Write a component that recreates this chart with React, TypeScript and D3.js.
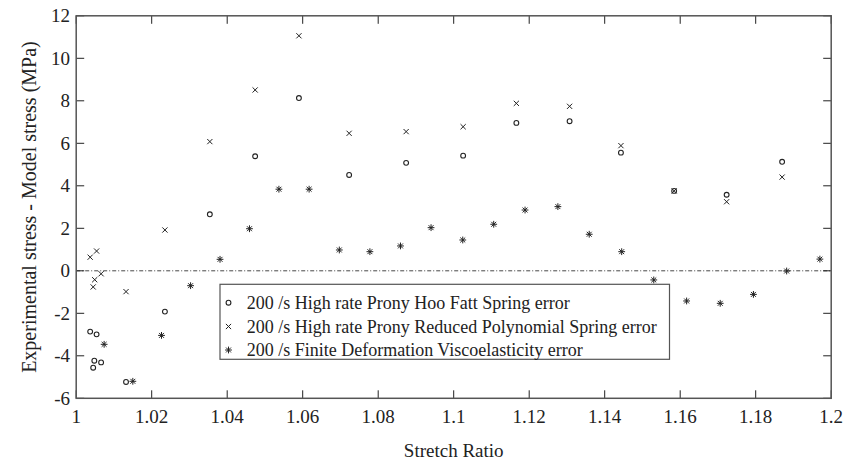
import React from "react";
import * as d3 from "d3";

const W = 856;
const H = 461;

const hooFattX = [1.0037, 1.0045, 1.0048, 1.0054, 1.0066, 1.0132, 1.0235, 1.0354, 1.0474, 1.059, 1.0723, 1.0874, 1.1025, 1.1166, 1.1307, 1.1443, 1.1584, 1.1723, 1.187];
const hooFattY = [-2.86, -4.56, -4.23, -2.99, -4.31, -5.23, -1.92, 2.66, 5.39, 8.13, 4.51, 5.08, 5.42, 6.96, 7.04, 5.56, 3.76, 3.58, 5.13];

const polyX = [1.0037, 1.0045, 1.0049, 1.0054, 1.0066, 1.0132, 1.0235, 1.0354, 1.0474, 1.059, 1.0723, 1.0874, 1.1025, 1.1166, 1.1307, 1.1443, 1.1584, 1.1723, 1.187];
const polyY = [0.64, -0.76, -0.42, 0.93, -0.14, -0.98, 1.92, 6.08, 8.51, 11.06, 6.47, 6.55, 6.78, 7.88, 7.74, 5.89, 3.76, 3.25, 4.41];

const fdvX = [1.0074, 1.015, 1.0226, 1.0303, 1.0381, 1.0459, 1.0537, 1.0617, 1.0697, 1.0778, 1.0859, 1.094, 1.1024, 1.1106, 1.1189, 1.1276, 1.1359, 1.1445, 1.153, 1.1617, 1.1706, 1.1794, 1.1882, 1.197];
const fdvY = [-3.46, -5.2, -3.04, -0.7, 0.54, 1.98, 3.84, 3.84, 0.98, 0.9, 1.17, 2.03, 1.45, 2.19, 2.86, 3.02, 1.72, 0.9, -0.43, -1.42, -1.53, -1.11, -0.01, 0.55];

const xTicks = [1, 1.02, 1.04, 1.06, 1.08, 1.1, 1.12, 1.14, 1.16, 1.18, 1.2];
const yTicks = [-6, -4, -2, 0, 2, 4, 6, 8, 10, 12];

const legendLabels = [
  "200 /s High rate Prony Hoo Fatt Spring error",
  "200 /s High rate Prony Reduced Polynomial Spring error",
  "200 /s Finite Deformation Viscoelasticity error",
];

const xTitle = "Stretch Ratio";
const yTitle = "Experimental stress - Model stress (MPa)";

const INK = "#222";
const AXIS = "#555";

const left = 76.2, right = 831.2, top = 15.8, bottom = 398.3;

function Circle({ x, y }: { x: number; y: number }) {
  return <circle cx={x} cy={y} r={2.4} fill="none" stroke={INK} strokeWidth={1.1} />;
}
function Cross({ x, y }: { x: number; y: number }) {
  const s = 2.6;
  return (
    <g stroke={INK} strokeWidth={1}>
      <line x1={x - s} y1={y - s} x2={x + s} y2={y + s} />
      <line x1={x - s} y1={y + s} x2={x + s} y2={y - s} />
    </g>
  );
}
function Star({ x, y }: { x: number; y: number }) {
  const s = 3.4;
  const d = s * 0.72;
  return (
    <g stroke={INK} strokeWidth={1}>
      <line x1={x - s} y1={y} x2={x + s} y2={y} />
      <line x1={x} y1={y - s} x2={x} y2={y + s} />
      <line x1={x - d} y1={y - d} x2={x + d} y2={y + d} />
      <line x1={x - d} y1={y + d} x2={x + d} y2={y - d} />
    </g>
  );
}

export default function App() {
  const x = d3.scaleLinear().domain([1, 1.2]).range([left, right]);
  const y = d3.scaleLinear().domain([-6, 12]).range([bottom, top]);
  const tl = 8;

  const legX = 220, legY = 284.3, legW = 449.5, legH = 75;
  const rowY = [302.7, 326.5, 350];

  return (
    <svg width={W} height={H} fontFamily="Liberation Serif" style={{ position: "absolute", left: 0, top: 0, background: "#fff" }}>
      <rect x={0} y={0} width={W} height={H} fill="#fff" />
      <line x1={left} x2={right} y1={y(0)} y2={y(0)} stroke="#333" strokeWidth={0.9} strokeDasharray="4,2,1,2" />
      {xTicks.map((t, i) => (
        <g key={"xt" + i}>
          <line x1={x(t)} x2={x(t)} y1={bottom} y2={bottom - tl} stroke={INK} strokeWidth={1} />
          <line x1={x(t)} x2={x(t)} y1={top} y2={top + tl} stroke={INK} strokeWidth={1} />
          <text x={x(t)} y={423} textAnchor="middle" fontSize={19} fill={INK}>
            {d3.format("")(t)}
          </text>
        </g>
      ))}
      {yTicks.map((t, i) => (
        <g key={"yt" + i}>
          <line x1={left} x2={left + tl} y1={y(t)} y2={y(t)} stroke={INK} strokeWidth={1} />
          <line x1={right} x2={right - tl} y1={y(t)} y2={y(t)} stroke={INK} strokeWidth={1} />
          <text x={70} y={y(t) + 6.5} textAnchor="end" fontSize={19} fill={INK}>
            {t}
          </text>
        </g>
      ))}
      <rect x={left} y={top} width={right - left} height={bottom - top} fill="none" stroke={AXIS} strokeWidth={1.5} />

      {hooFattX.map((v, i) => <Circle key={"c" + i} x={x(v)} y={y(hooFattY[i])} />)}
      {polyX.map((v, i) => <Cross key={"x" + i} x={x(v)} y={y(polyY[i])} />)}
      {fdvX.map((v, i) => <Star key={"s" + i} x={x(v)} y={y(fdvY[i])} />)}

      <rect x={legX} y={legY} width={legW} height={legH} fill="#fff" stroke={AXIS} strokeWidth={1.2} />
      <Circle x={228.5} y={rowY[0]} />
      <Cross x={228.5} y={rowY[1]} />
      <Star x={228.5} y={rowY[2]} />
      {legendLabels.map((l, i) => (
        <text key={"l" + i} x={246.7} y={rowY[i] + 6} fontSize={18} fill={INK}>
          {l}
        </text>
      ))}

      <text x={(left + right) / 2} y={457} textAnchor="middle" fontSize={19} fill={INK}>
        {xTitle}
      </text>
      <text transform={`translate(36, ${(top + bottom) / 2}) rotate(-90)`} textAnchor="middle" fontSize={20} fill={INK}>
        {yTitle}
      </text>
    </svg>
  );
}
